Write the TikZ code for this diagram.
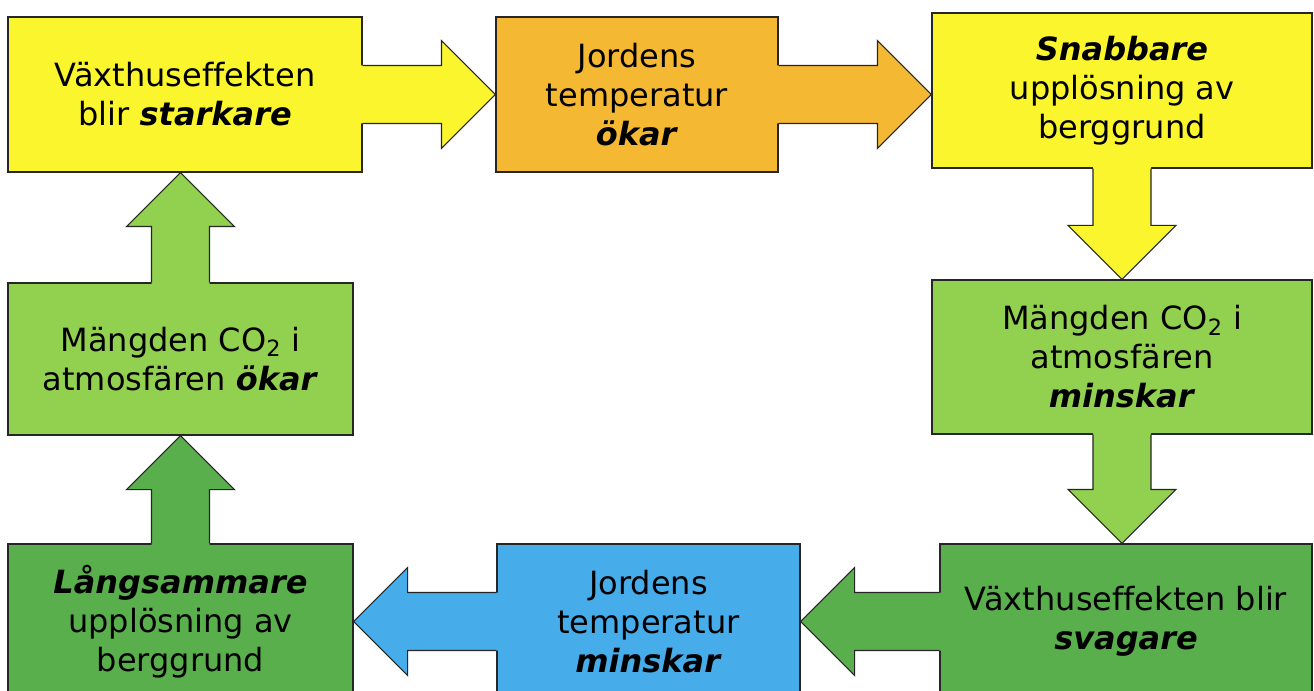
\documentclass[tikz,border=0pt]{standalone}
\usepackage{fontspec}
\setmainfont[Ligatures=NoCommon]{DejaVu Sans}
\usetikzlibrary{calc}
\definecolor{cyel}{RGB}{250,245,45}
\definecolor{corange}{RGB}{245,184,51}
\definecolor{clgreen}{RGB}{146,208,80}
\definecolor{cdgreen}{RGB}{90,175,77}
\definecolor{cblue}{RGB}{70,173,234}
\tikzset{
  box/.style={draw=black!85, line width=0.8pt, align=center, inner sep=0pt,
    font=\fontsize{24}{29.25}\selectfont, text=black},
  outline/.style={draw=black!85, line width=0.8pt, line join=miter},
}
\newcommand\keyw[1]{\textbf{\textit{#1}}}
% #1 source anchor, #2 tip coordinate, #3 colour, #4 #5 direction (image px, y down)
\newcommand\blockarrow[5]{%
  \path[fill=#3] ([shift={({-2*(#4)-29*(#5)},{-2*(#5)+29*(#4)})}]#1)
    -- ([shift={({-54*(#4)-29*(#5)},{-54*(#5)+29*(#4)})}]#2)
    -- ([shift={({-54*(#4)-54*(#5)},{-54*(#5)+54*(#4)})}]#2)
    -- (#2)
    -- ([shift={({-54*(#4)+54*(#5)},{-54*(#5)-54*(#4)})}]#2)
    -- ([shift={({-54*(#4)+29*(#5)},{-54*(#5)-29*(#4)})}]#2)
    -- ([shift={({-2*(#4)+29*(#5)},{-2*(#5)-29*(#4)})}]#1) -- cycle;
  \draw[outline] ([shift={({-29*(#5)},{29*(#4)})}]#1)
    -- ([shift={({-54*(#4)-29*(#5)},{-54*(#5)+29*(#4)})}]#2)
    -- ([shift={({-54*(#4)-54*(#5)},{-54*(#5)+54*(#4)})}]#2)
    -- (#2)
    -- ([shift={({-54*(#4)+54*(#5)},{-54*(#5)-54*(#4)})}]#2)
    -- ([shift={({-54*(#4)+29*(#5)},{-54*(#5)-29*(#4)})}]#2)
    -- ([shift={({29*(#5)},{-29*(#4)})}]#1);
}
\begin{document}
\begin{tikzpicture}[x=0.75pt, y=-0.75pt]
\useasboundingbox (0,0) rectangle (1314,691);
\fill[white] (0,0) rectangle (1314,691);
\clip (0,0) rectangle (1314,691);

\node[box, fill=cyel, minimum width=265.5pt, minimum height=116.25pt] (b1) at (185,94.5)
  {Växthuseffekten\\blir \keyw{starkare}};
\node[box, fill=corange, minimum width=211.5pt, minimum height=116.25pt] (b2) at (637,94.5)
  {Jordens\\temperatur\\\keyw{ökar}};
\node[box, fill=cyel, minimum width=285pt, minimum height=116.25pt] (b3) at (1122,90.5)
  {\keyw{Snabbare}\\upplösning av\\berggrund};
\node[box, fill=clgreen, minimum width=285pt, minimum height=115.5pt] (b4) at (1122,357)
  {Mängden CO\textsubscript{2} i\\atmosfären\\\keyw{minskar}};
\node[box, fill=cdgreen, minimum width=279pt, minimum height=116.25pt] (b5) at (1126,621.5)
  {Växthuseffekten blir\\\keyw{svagare}};
\node[box, fill=cblue, minimum width=227.25pt, minimum height=116.25pt] (b6) at (648.5,621.5)
  {Jordens\\temperatur\\\keyw{minskar}};
\node[box, fill=cdgreen, minimum width=258.75pt, minimum height=116.25pt] (b7) at (180.5,621.5)
  {\keyw{Långsammare}\\upplösning av\\berggrund};
\node[box, fill=clgreen, minimum width=258.75pt, minimum height=114pt] (b8) at (180.5,359)
  {Mängden CO\textsubscript{2} i\\atmosfären \keyw{ökar}};

\coordinate (t1) at (b1.east -| b2.west);
\coordinate (t2) at (b2.east -| b3.west);
\coordinate (t3) at (b4.north -| b3.south);
\coordinate (t4) at (b5.north -| b4.south);
\coordinate (t5) at (b5.west -| b6.east);
\coordinate (t6) at (b6.west -| b7.east);
\coordinate (t7) at (b8.south -| b7.north);
\coordinate (t8) at (b1.south -| b8.north);

\blockarrow{b1.east}{t1}{cyel}{1}{0}
\blockarrow{b2.east}{t2}{corange}{1}{0}
\blockarrow{b3.south}{t3}{cyel}{0}{1}
\blockarrow{b4.south}{t4}{clgreen}{0}{1}
\blockarrow{b5.west}{t5}{cdgreen}{-1}{0}
\blockarrow{b6.west}{t6}{cblue}{-1}{0}
\blockarrow{b7.north}{t7}{cdgreen}{0}{-1}
\blockarrow{b8.north}{t8}{clgreen}{0}{-1}
\end{tikzpicture}
\end{document}
